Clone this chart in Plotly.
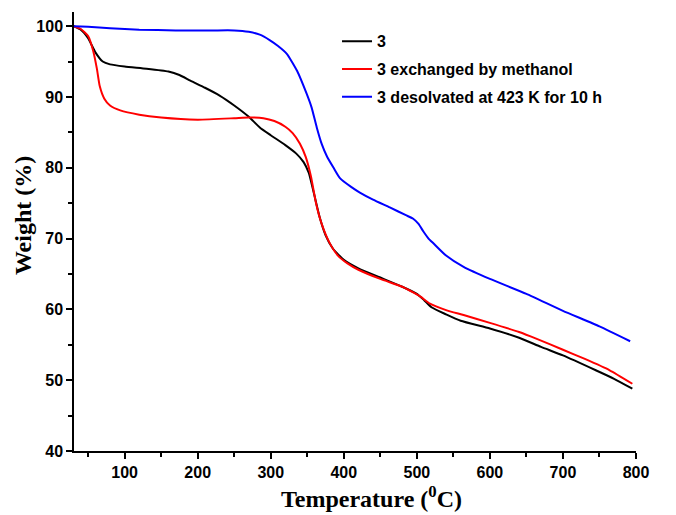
import plotly.graph_objects as go

# ---- data ----
t_black = [30, 40, 50, 60, 70, 80, 100, 130, 160, 175, 190, 210, 230, 250, 270, 285, 300, 320, 335,
           345, 352, 360, 367, 375, 385, 400, 420, 450, 480, 500, 510, 520, 540, 560, 600, 640, 670,
           700, 745, 770, 795]
w_black = [100, 99.5, 98.3, 96.3, 95.0, 94.6, 94.3, 94.0, 93.6, 93.1, 92.3, 91.3, 90.2, 88.8, 87.2,
           85.7, 84.6, 83.2, 82.0, 80.8, 79.3, 76.0, 73.0, 70.5, 68.6, 67.0, 65.8, 64.5, 63.2, 62.2,
           61.3, 60.3, 59.3, 58.4, 57.3, 56.0, 54.7, 53.5, 51.4, 50.2, 48.8]

t_red = [30, 40, 50, 57, 62, 66, 72, 80, 94, 120, 150, 200, 250, 270, 290, 305, 320, 330, 340, 348,
         355, 362, 370, 380, 392, 405, 420, 450, 480, 495, 505, 518, 540, 564, 600, 640, 665, 700,
         730, 764, 795]
w_red = [100, 99.6, 98.6, 96.5, 94.0, 91.5, 89.8, 88.8, 88.1, 87.5, 87.1, 86.8, 87.0, 87.1, 87.0,
         86.6, 85.8, 84.9, 83.4, 81.5, 78.8, 75.0, 72.0, 69.5, 67.6, 66.5, 65.6, 64.3, 63.2, 62.4,
         61.8, 60.8, 59.9, 59.2, 58.1, 56.8, 55.8, 54.3, 53.0, 51.4, 49.5]

t_blue = [30, 50, 80, 120, 170, 220, 250, 270, 285, 299, 310, 322, 336, 349, 356, 363, 370, 377,
          386, 395, 410, 422, 440, 463, 485, 495, 502, 509, 516, 523, 540, 564, 600, 650, 700, 750,
          792]
w_blue = [100, 99.9, 99.7, 99.5, 99.4, 99.4, 99.4, 99.2, 98.8, 98.0, 97.2, 96.1, 93.7, 90.5, 88.5,
          85.7, 83.3, 81.6, 80.0, 78.5, 77.3, 76.5, 75.5, 74.4, 73.3, 72.8, 72.1, 71.0, 70.0, 69.3,
          67.6, 66.0, 64.3, 62.2, 59.8, 57.6, 55.5]

series_names = ["3", "3 exchanged by methanol", "3 desolvated at 423 K for 10 h"]
x_ticks = [100, 200, 300, 400, 500, 600, 700, 800]
y_ticks = [40, 50, 60, 70, 80, 90, 100]

fig = go.Figure()
for i, (t, w, col) in enumerate([(t_black, w_black, "#000000"),
                                  (t_red, w_red, "#ff0000"),
                                  (t_blue, w_blue, "#0000ff")]):
    fig.add_trace(go.Scatter(x=t, y=w, mode="lines", name=series_names[i],
                             legendgroup=f"g{i}",
                             line=dict(color=col, width=2, shape="spline", smoothing=0.5)))

tickfont = dict(family="Liberation Sans, Arial, sans-serif", size=16, color="#000000", weight="bold")

# page body has an 8px margin, so the figure is drawn 8px smaller with margins reduced by 8
fig.update_layout(
    width=668, height=507,
    margin=dict(l=66, r=40, t=4, b=64),
    paper_bgcolor="white", plot_bgcolor="white",
    showlegend=True,
    legend=dict(x=0.468, y=0.972, xanchor="left", yanchor="top",
                font=dict(family="Liberation Sans, Arial, sans-serif", size=16,
                          color="#000000", weight="bold"),
                bgcolor="rgba(0,0,0,0)", tracegroupgap=4, itemwidth=30),
    xaxis=dict(range=[30.7, 800], showgrid=False, zeroline=False,
               showline=True, linecolor="#000000", linewidth=1.5, mirror=False,
               tickmode="array", tickvals=x_ticks, ticktext=[str(v) for v in x_ticks],
               ticks="outside", ticklen=6, tickwidth=1.5, tickcolor="#000000",
               tickfont=tickfont,
               minor=dict(dtick=50, tick0=0, ticks="outside", ticklen=4,
                          tickwidth=1.5, tickcolor="#000000", showgrid=False)),
    yaxis=dict(range=[40, 102], showgrid=False, zeroline=False,
               showline=True, linecolor="#000000", linewidth=1.5, mirror=False,
               tickmode="array", tickvals=y_ticks, ticktext=[str(v) for v in y_ticks],
               ticks="outside", ticklen=6, tickwidth=1.5, tickcolor="#000000",
               tickfont=tickfont,
               minor=dict(dtick=5, tick0=0, ticks="outside", ticklen=4,
                          tickwidth=1.5, tickcolor="#000000", showgrid=False)),
    annotations=[
        dict(text="Temperature (<sup>0</sup>C)", xref="paper", yref="paper",
             x=0.53, y=-0.105, xanchor="center", yanchor="middle", showarrow=False,
             font=dict(family="Liberation Serif, Times New Roman, serif", size=24,
                       color="#000000", weight="bold")),
        dict(text="Weight (%)", xref="paper", yref="paper",
             x=-0.091, y=0.537, xanchor="center", yanchor="middle", showarrow=False,
             textangle=-90,
             font=dict(family="Liberation Serif, Times New Roman, serif", size=24,
                       color="#000000", weight="bold")),
    ],
)

fig.write_html("out.html")
